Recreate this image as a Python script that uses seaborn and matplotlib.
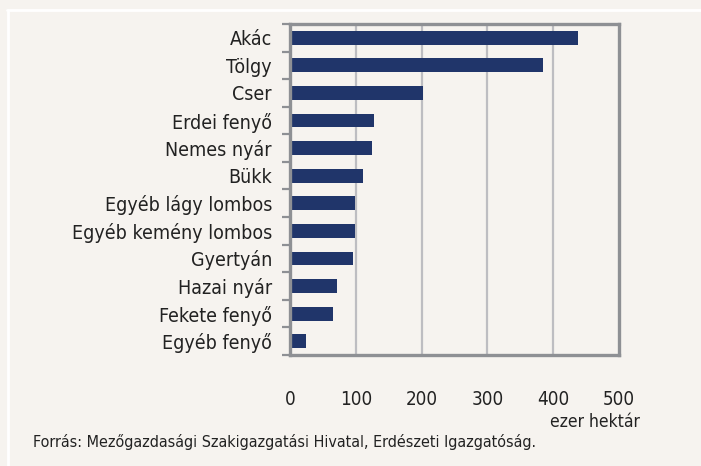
import matplotlib
matplotlib.use('Agg')
import matplotlib.pyplot as plt
import seaborn as sns
import numpy as np
from matplotlib import font_manager
from matplotlib.lines import Line2D
from matplotlib.ticker import FixedLocator

# Data (ezer hektár)
categories = ['Akác', 'Tölgy', 'Cser', 'Erdei fenyő', 'Nemes nyár', 'Bükk',
              'Egyéb lágy lombos', 'Egyéb kemény lombos', 'Gyertyán',
              'Hazai nyár', 'Fekete fenyő', 'Egyéb fenyő']
values = [437, 384, 202, 128, 125, 111, 99, 99, 96, 71, 65, 24]
xticks = [0, 100, 200, 300, 400, 500]

bg = '#f6f3ef'
bar_color = '#20356a'
frame_color = '#8e9094'
grid_color = '#bdbdc1'
txt_color = '#222222'

# look for a narrow font file (Arial Narrow look-alike)
font_file = None
for key in ['LiberationSansNarrow-Regular', 'DejaVuSansCondensed.ttf']:
    for f in font_manager.fontManager.ttflist:
        if key.lower() in f.fname.lower():
            font_file = f.fname
            break
    if font_file:
        break


def font(size):
    if font_file:
        return font_manager.FontProperties(fname=font_file, size=size)
    return font_manager.FontProperties(family=['Liberation Sans', 'DejaVu Sans'], size=size * 0.9)


sns.set_theme(style='white')
plt.rcParams['font.family'] = ['Liberation Sans', 'DejaVu Sans']
plt.rcParams['text.color'] = txt_color

fig = plt.figure(figsize=(7.01, 4.66), dpi=100, facecolor=bg)
ax = fig.add_axes([290 / 701, 1 - 355 / 466, (619 - 290) / 701, (355 - 24) / 466])
ax.set_facecolor(bg)

sns.barplot(x=values, y=categories, orient='h', color=bar_color,
            width=0.5, saturation=1, linewidth=0, ax=ax)

ax.set_xlim(0, 500)
ax.set_ylim(len(categories) - 0.5, -0.5)
ax.set_xticks(xticks)
ax.set_xticklabels([str(t) for t in xticks])
ax.set_xlabel('')
ax.set_ylabel('')

# vertical grid lines
for t in xticks[1:-1]:
    ax.axvline(t, color=grid_color, linewidth=1.6, zorder=0)

for s in ax.spines.values():
    s.set_visible(True)
    s.set_color(frame_color)
    s.set_linewidth(2.4)

ax.tick_params(axis='x', length=0, pad=25, colors=txt_color)
ax.tick_params(axis='y', which='major', length=0, pad=13, colors=txt_color)
ax.yaxis.set_minor_locator(FixedLocator(np.arange(-0.5, len(categories), 1)))
ax.tick_params(axis='y', which='minor', left=True, length=6, width=1.6, color=frame_color)
for lab in ax.get_yticklabels():
    lab.set_fontproperties(font(14))
for lab in ax.get_xticklabels():
    lab.set_fontproperties(font(13.5))

fig.text(640 / 701, 1 - 422 / 466, 'ezer hektár', ha='right', va='center', fontproperties=font(12.5))
fig.text(33 / 701, 1 - 442 / 466, 'Forrás: Mezőgazdasági Szakigazgatási Hivatal, Erdészeti Igazgatóság.',
         ha='left', va='center', fontproperties=font(11.5))

# white panel border (top and left)
fig.add_artist(Line2D([7 / 701, 1], [1 - 10 / 466, 1 - 10 / 466], color='white', linewidth=2,
                      transform=fig.transFigure))
fig.add_artist(Line2D([7.5 / 701, 7.5 / 701], [0, 1 - 10 / 466], color='white', linewidth=2,
                      transform=fig.transFigure))

fig.savefig('out.png', dpi=100, facecolor=bg)
